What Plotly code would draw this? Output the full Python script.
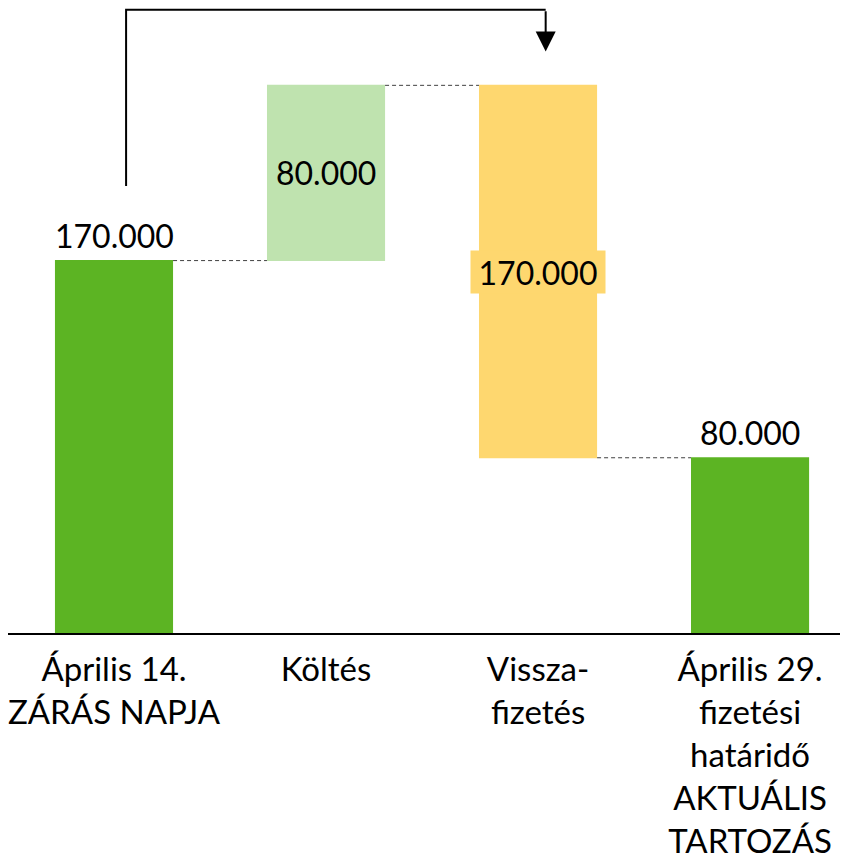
import plotly.graph_objects as go

categories = [
    "Április 14.<br>ZÁRÁS NAPJA",
    "Költés",
    "Vissza-<br>fizetés",
    "Április 29.<br>fizetési<br>határidő<br>AKTUÁLIS<br>TARTOZÁS",
]
measures = ["absolute", "relative", "relative", "total"]
values = [170000, 80000, -170000, 0]
label_positions = ["outside", "inside", "inside-box", "outside"]

COLOR_TOTAL = "#5CB423"
COLOR_UP = "#BFE3AF"
COLOR_DOWN = "#FED76F"
FONT = "Lato"


def fmt(v):
    return f"{abs(v):,}".replace(",", ".")


# bar bounds derived from the data
bounds = []
running = 0
for m, v in zip(measures, values):
    if m == "absolute":
        lo, hi = 0, v
        running = v
    elif m == "relative":
        lo, hi = sorted([running, running + v])
        running += v
    else:
        lo, hi = 0, running
    bounds.append((lo, hi))

label_values = [hi - lo for lo, hi in bounds]

fig = go.Figure(
    go.Waterfall(
        x=categories,
        measure=measures,
        y=values,
        width=0.557,
        totals=dict(marker=dict(color=COLOR_TOTAL)),
        increasing=dict(marker=dict(color=COLOR_UP)),
        decreasing=dict(marker=dict(color=COLOR_DOWN)),
        connector=dict(mode="between", line=dict(color="#404040", width=1, dash="4px,3px")),
        textinfo="none",
        hoverinfo="skip",
    )
)

annotations = []
for i, (pos, (lo, hi), lv) in enumerate(zip(label_positions, bounds, label_values)):
    a = dict(
        x=i, xref="x", yref="y", text=fmt(lv), showarrow=False,
        font=dict(family=FONT, size=32, color="black"),
    )
    if pos == "outside":
        a.update(y=hi, yanchor="bottom", yshift=4)
    elif pos == "inside":
        a.update(y=(lo + hi) / 2, yanchor="middle")
    else:
        a.update(y=(lo + hi) / 2, yanchor="middle", bgcolor=COLOR_DOWN,
                 width=134, height=42, borderpad=0)
    annotations.append(a)

# flow arrow from the first bar to the repayment bar
start_x = 0 + 0.057
end_x = 2 + 0.036
y_low = bounds[0][1] + 34000
y_top = 284500
y_tip = 265500
fig.add_shape(
    type="path", xref="x", yref="y",
    path=f"M {start_x},{y_low} L {start_x},{y_top} L {end_x},{y_top}",
    line=dict(color="black", width=2),
)
annotations.append(dict(
    x=end_x, y=y_tip, ax=end_x, ay=y_top, xref="x", yref="y", axref="x", ayref="y",
    text="", showarrow=True, arrowhead=2, arrowsize=2, arrowwidth=2,
    arrowcolor="black", standoff=0,
))

fig.update_layout(
    width=840, height=856,
    margin=dict(l=0, r=0, t=0, b=231, autoexpand=False),
    paper_bgcolor="white", plot_bgcolor="white",
    showlegend=False,
    annotations=annotations,
    font=dict(family=FONT, size=32, color="black"),
    xaxis=dict(
        type="category", range=[-0.5, 3.462], automargin=False,
        showline=True, linecolor="black", linewidth=1.5,
        showgrid=False, zeroline=False, ticks="",
        tickfont=dict(family=FONT, size=33, color="black"),
        ticklabelstandoff=7,
    ),
    yaxis=dict(visible=False, range=[0, 285300], showgrid=False, zeroline=False),
)

fig.write_html("out.html")
